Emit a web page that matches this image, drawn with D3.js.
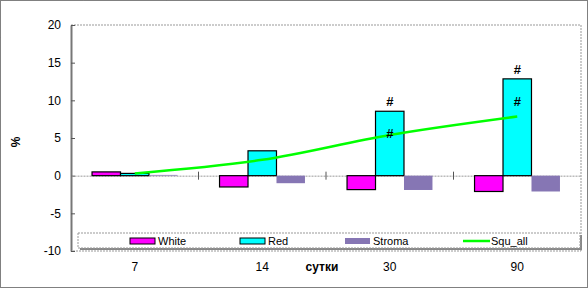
<!DOCTYPE html>
<html>
<head>
<meta charset="utf-8">
<script src="https://cdn.jsdelivr.net/npm/d3@7"></script>
<style>
  body { margin: 0; background: #fff; }
  svg { display: block; font-family: "Liberation Sans", Arial, sans-serif; }
</style>
</head>
<body>
<svg id="chart"></svg>
<script>
// data
const days = ['7', '14', '30', '90'];
const white = [0.5, -1.5, -1.85, -2.1];
const red = [0.3, 3.3, 8.55, 12.85];
const stroma = [0.1, -1.0, -1.9, -2.1];
const squAll = [0.3, 2.1, 5.4, 7.85];
const yTicks = [-10, -5, 0, 5, 10, 15, 20];
// '#' marks: [category index, value]
const marks = [[2, 8.55], [2, 4.4], [3, 12.85], [3, 8.6]];

const W = 588, H = 288;
const margin = { top: 25, right: 7, bottom: 37, left: 71 };
const width = W - margin.left - margin.right;
const height = H - margin.top - margin.bottom;

const svg = d3.select('#chart').attr('width', W).attr('height', H);

// outer dotted frame
svg.append('rect')
  .attr('x', 0.5).attr('y', 0.5).attr('width', W - 1).attr('height', H - 1)
  .attr('fill', 'none').attr('stroke', '#000').attr('stroke-dasharray', '1,1');

const g = svg.append('g').attr('transform', `translate(${margin.left},${margin.top})`);

const x = d3.scaleBand().domain(days).range([0, width]).paddingInner(0.33).paddingOuter(0.165);
const xCat = d3.scaleBand().domain(days).range([0, width]);
const y = d3.scaleLinear().domain([-10, 20]).range([height, 0]);
const series = ['White', 'Red', 'Stroma'];
const xs = d3.scaleBand().domain(series).range([0, x.bandwidth()]);

// plot area border (top / right dashed grey)
g.append('path')
  .attr('d', `M0,0H${width}V${height}H0`)
  .attr('fill', 'none').attr('stroke', '#999').attr('stroke-dasharray', '2,1');

// y axis
const yAxis = g.append('g')
  .call(d3.axisLeft(y).tickValues(yTicks).tickFormat(d => String(d)).tickSize(4).tickSizeOuter(0))
  .call(a => a.select('.domain').attr('stroke', '#777').attr('stroke-width', 2));
yAxis.selectAll('.tick line').attr('stroke', '#555').attr('x2', 4);
yAxis.selectAll('.tick text').attr('x', -10).attr('font-size', 12).attr('fill', '#000')
  .attr('font-family', '"Liberation Sans", Arial, sans-serif');

// zero line with category ticks
const xAxis = g.append('g')
  .attr('transform', `translate(0,${y(0)})`)
  .call(d3.axisBottom(xCat).tickSize(0).tickFormat(''))
  .call(a => a.select('.domain').attr('stroke', '#999').attr('stroke-dasharray', '2,1'));
xAxis.selectAll('.tick').remove();
g.selectAll('.cat-tick')
  .data(days.slice(1))
  .enter().append('line')
  .attr('x1', d => xCat(d)).attr('x2', d => xCat(d))
  .attr('y1', y(0) - 4).attr('y2', y(0) + 4)
  .attr('stroke', '#555');

// category labels
g.selectAll('.cat-label')
  .data(days)
  .enter().append('text')
  .attr('x', d => xCat(d) + xCat.bandwidth() / 2)
  .attr('y', height + 20)
  .attr('text-anchor', 'middle')
  .attr('font-size', 12)
  .text(d => d);

g.append('text')
  .attr('x', 322 - margin.left).attr('y', height + 20)
  .attr('text-anchor', 'middle')
  .attr('font-size', 12).attr('font-weight', 'bold')
  .text('сутки');

svg.append('text')
  .attr('transform', 'translate(20,142) rotate(-90)')
  .attr('text-anchor', 'middle')
  .attr('font-size', 12).attr('font-weight', 'bold')
  .text('%');

// bars
const styles = {
  White: { fill: '#ff00ff', stroke: '#000' },
  Red: { fill: '#00ffff', stroke: '#000' },
  Stroma: { fill: '#8676b4', stroke: 'none' }
};
const values = { White: white, Red: red, Stroma: stroma };

series.forEach(s => {
  g.selectAll(`.bar-${s}`)
    .data(days)
    .enter().append('rect')
    .attr('x', d => x(d) + xs(s))
    .attr('y', (d, i) => y(Math.max(0, values[s][i])))
    .attr('width', xs.bandwidth())
    .attr('height', (d, i) => Math.abs(y(values[s][i]) - y(0)))
    .attr('fill', styles[s].fill)
    .attr('stroke', styles[s].stroke)
    .attr('stroke-width', 1.2);
});

// Squ_all smoothed line
const line = d3.line()
  .x((d, i) => xCat(days[i]) + xCat.bandwidth() / 2)
  .y(d => y(d))
  .curve(d3.curveCatmullRom.alpha(0.5));

g.append('path')
  .datum(squAll)
  .attr('d', line)
  .attr('fill', 'none')
  .attr('stroke', '#00ff00')
  .attr('stroke-width', 2.5);

// '#' significance marks
g.selectAll('.mark')
  .data(marks)
  .enter().append('text')
  .attr('x', d => x(days[d[0]]) + xs('Red') + xs.bandwidth() / 2)
  .attr('y', d => y(d[1]) - 5)
  .attr('text-anchor', 'middle')
  .attr('font-size', 13).attr('font-weight', 'bold')
  .text('#');

// legend
const legend = svg.append('g');
legend.append('rect')
  .attr('x', 80).attr('y', 235).attr('width', 502).attr('height', 15)
  .attr('fill', '#888');
legend.append('rect')
  .attr('x', 78).attr('y', 233).attr('width', 502).attr('height', 15)
  .attr('fill', '#fff').attr('stroke', '#999').attr('stroke-dasharray', '2,1');

const legendX = [130, 240, 345, 463];
const legendItems = ['White', 'Red', 'Stroma', 'Squ_all'];
legendItems.forEach((s, i) => {
  if (s === 'Squ_all') {
    legend.append('line')
      .attr('x1', legendX[i]).attr('x2', legendX[i] + 27)
      .attr('y1', 241).attr('y2', 241)
      .attr('stroke', '#00ff00').attr('stroke-width', 2.5);
  } else {
    legend.append('rect')
      .attr('x', legendX[i]).attr('y', 238).attr('width', 25).attr('height', 6)
      .attr('fill', styles[s].fill).attr('stroke', styles[s].stroke);
  }
  legend.append('text')
    .attr('x', legendX[i] + 28).attr('y', 245)
    .attr('font-size', 11)
    .text(s);
});
</script>
</body>
</html>
